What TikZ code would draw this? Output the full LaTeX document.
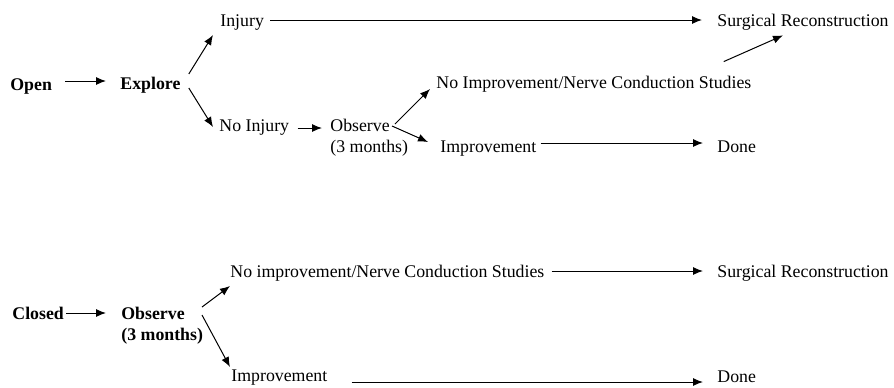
\documentclass[tikz,border=0pt]{standalone}
\usepackage{fontspec}
\setmainfont{Liberation Serif}
\usetikzlibrary{arrows.meta}

\tikzset{
  lbl/.style={inner sep=0pt, text height=6pt, text depth=0pt, anchor=base west},
  twoline/.style={inner sep=0pt, align=left, anchor=base west},
  arr/.style={-{Latex[length=5pt,width=4pt]}, line width=0.5pt}
}

\begin{document}
\begin{tikzpicture}[x=0.5pt,y=-0.5pt,font=\fontsize{8.9}{10.5}\selectfont]
\useasboundingbox (0,0) rectangle (894,387);
% open injury
\node[lbl] (open) at (10,90) {\textbf{Open}};
\node[lbl] (explore) at (120,89) {\textbf{Explore}};
\node[lbl] (injury) at (220,26) {Injury};
\node[lbl] (surgA) at (717,26) {Surgical Reconstruction};
\node[lbl] (noinj) at (219,131) {No Injury};
\node[twoline] (obsA) at (330,152) {Observe\\(3 months)};
\node[lbl] (ncsA) at (436,88) {No Improvement/Nerve Conduction Studies};
\node[lbl] (impA) at (440,152) {Improvement};
\node[lbl] (doneA) at (717,152) {Done};
\draw[arr, shorten <=6.5pt, shorten >=7pt] ([yshift=1.5pt]open.east) -- ([yshift=1.5pt]open.east -| explore.west);
\draw[arr] ([shift={(8,-9)}]explore.east) -- ([shift={(-7,9)}]injury.base west);
\draw[arr] ([shift={(8,5)}]explore.east) -- ([shift={(-6,-4)}]noinj.base west);
\draw[arr, shorten <=3pt, shorten >=7.5pt] (injury.east) -- (injury.east -| surgA.west);
\draw[arr, shorten <=4pt, shorten >=4pt] ([yshift=-1.5pt]noinj.east) -- ([yshift=-1.5pt]noinj.east -| obsA.west);
\draw[arr] ([shift={(65,-28)}]obsA.base west) -- ([shift={(-6,1)}]ncsA.base west);
\draw[arr] ([shift={(62,-26)}]obsA.base west) -- ([shift={(-12,-10)}]impA.base west);
\draw[arr, shorten <=2pt, shorten >=7pt] ([yshift=1.5pt]impA.east) -- ([yshift=1.5pt]doneA.west);
\draw[arr] ([shift={(-28,-14)}]ncsA.north east) -- ([shift={(-20,9)}]surgA.south);
% closed injury
\node[lbl] (closed) at (12,319) {\textbf{Closed}};
\node[twoline] (obsB) at (121,340) {\textbf{Observe}\\\textbf{(3 months)}};
\node[lbl] (ncsB) at (230,277) {No improvement/Nerve Conduction Studies};
\node[lbl] (surgB) at (717,277) {Surgical Reconstruction};
\node[lbl] (impB) at (231,381) {Improvement};
\node[lbl] (doneB) at (717,382) {Done};
\draw[arr, shorten <=1pt, shorten >=7.5pt] (closed.east) -- (closed.east -| obsB.west);
\draw[arr] ([shift={(81,-33)}]obsB.base west) -- ([shift={(0,9)}]ncsB.base west);
\draw[arr] ([shift={(81,-25)}]obsB.base west) -- ([shift={(-1,-14)}]impB.base west);
\draw[arr, shorten <=3.5pt, shorten >=7pt] (ncsB.east) -- (surgB.west);
\draw[arr, shorten <=12pt, shorten >=7pt] ([yshift=-3.5pt]impB.east) -- ([yshift=-3.5pt]impB.east -| doneB.west);
\end{tikzpicture}
\end{document}
